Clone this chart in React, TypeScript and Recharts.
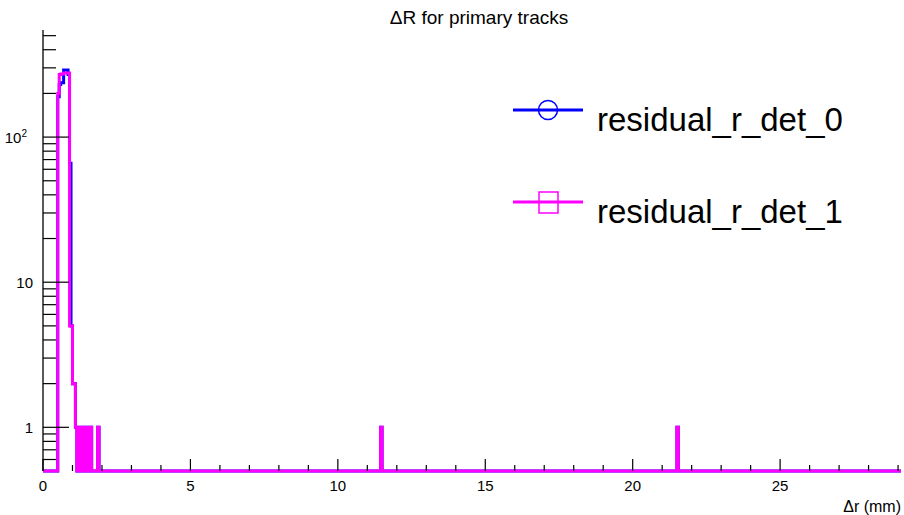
import { LineChart, Line, XAxis, YAxis, Legend } from 'recharts';

const FONT = '"Liberation Sans", Arial, Helvetica, sans-serif';

const X_MIN = 0;
const X_MAX = 29.1;
const Y_MIN = 0.5;
const Y_MAX = 547;

// lower bin edges (mm) where the contents change
const binEdges = [
  0, 0.5, 0.55, 0.6, 0.65, 0.7, 0.75, 0.8, 0.85, 0.9, 0.95, 1.0, 1.05, 1.1,
  1.15, 1.2, 1.25, 1.3, 1.35, 1.4, 1.45, 1.5, 1.55, 1.6, 1.65, 1.85, 1.9,
  11.45, 11.5, 21.5, 21.55, 29.1,
];
const det0Counts = [
  0, 190, 230, 237, 237, 290, 290, 290, 270, 66, 5, 2, 2, 1, 0, 1, 0, 1, 0, 1,
  0, 1, 0, 1, 0, 1, 0, 1, 0, 1, 0, 0,
];
const det1Counts = [
  0, 200, 270, 272, 272, 277, 277, 277, 277, 5, 5, 2, 2, 1, 0, 1, 0, 1, 0, 1,
  0, 1, 0, 1, 0, 1, 0, 1, 0, 1, 0, 0,
];

const xTicks = [
  0, 1, 2, 3, 4, 5, 6, 7, 8, 9, 10, 11, 12, 13, 14, 15, 16, 17, 18, 19, 20,
  21, 22, 23, 24, 25, 26, 27, 28, 29,
];
const xMajor = [0, 5, 10, 15, 20, 25];
const yTicks = [
  0.6, 0.7, 0.8, 0.9, 1, 2, 3, 4, 5, 6, 7, 8, 9, 10, 20, 30, 40, 50, 60, 70,
  80, 90, 100, 200, 300, 400, 500,
];
const yMajor = [1, 10, 100];

const seriesNames = ['residual_r_det_0', 'residual_r_det_1'];
const seriesColors = ['#0000ff', '#ff00ff'];

// empty bins sit on the bottom of the log axis, like ROOT draws them
const table = binEdges.map((x, i) => ({
  x,
  det0: Math.max(det0Counts[i], Y_MIN),
  det1: Math.max(det1Counts[i], Y_MIN),
}));

function XTick(props: any) {
  const { x, y, payload } = props;
  const v = payload.value;
  const major = xMajor.includes(v);
  return (
    <g>
      <line x1={x} x2={x} y1={y} y2={y - (major ? 12 : 6)} stroke="#000" strokeWidth={1.2} />
      {major && (
        <text x={x} y={y + 20} textAnchor="middle" fontSize={15} fontFamily={FONT} fill="#000">
          {v}
        </text>
      )}
    </g>
  );
}

function YTick(props: any) {
  const { x, y, payload } = props;
  const v = payload.value;
  const major = yMajor.includes(v);
  let label = null;
  if (v === 100) {
    label = (
      <text x={x - 16} y={y + 5.5} textAnchor="end" fontSize={15} fontFamily={FONT} fill="#000">
        10
        <tspan dy={-6} fontSize={10}>2</tspan>
      </text>
    );
  } else if (major) {
    label = (
      <text x={x - 10} y={y + 5.5} textAnchor="end" fontSize={15} fontFamily={FONT} fill="#000">
        {v}
      </text>
    );
  }
  return (
    <g>
      <line x1={x} x2={x + (major ? 26 : 13)} y1={y} y2={y} stroke="#000" strokeWidth={1.2} />
      {label}
    </g>
  );
}

function XLabel(props: any) {
  const { viewBox } = props;
  return (
    <text
      x={viewBox.x + viewBox.width}
      y={viewBox.y + 41}
      textAnchor="end"
      fontSize={16}
      fontFamily={FONT}
      fill="#000"
    >
      Δr (mm)
    </text>
  );
}

function LegendBox() {
  const rows = [20, 112];
  return (
    <svg width={360} height={150}>
      {seriesNames.map((name, i) => (
        <g key={name}>
          <line x1={13} x2={83} y1={rows[i]} y2={rows[i]} stroke={seriesColors[i]} strokeWidth={3} />
          {i === 0 ? (
            <circle cx={48} cy={rows[i]} r={9.5} fill="none" stroke={seriesColors[i]} strokeWidth={1.5} />
          ) : (
            <rect x={39} y={rows[i] - 10} width={19} height={21} fill="none" stroke={seriesColors[i]} strokeWidth={1.5} />
          )}
          <text x={97} y={rows[i] + 21} fontSize={33} fontFamily={FONT} fill="#000">
            {name}
          </text>
        </g>
      ))}
    </svg>
  );
}

export default function App() {
  return (
    <div style={{ position: 'absolute', left: 0, top: 0, width: 904, height: 515, background: '#fff' }}>
      <LineChart
        width={904}
        height={515}
        data={table}
        margin={{ top: 30, right: 3, bottom: 0, left: 0 }}
      >
        <XAxis
          dataKey="x"
          type="number"
          domain={[X_MIN, X_MAX]}
          ticks={xTicks}
          interval={0}
          tick={<XTick />}
          tickLine={false}
          tickSize={0}
          tickMargin={0}
          axisLine={false}
          height={44}
          label={<XLabel />}
        />
        <XAxis
          xAxisId="frameTop"
          orientation="top"
          dataKey="x"
          type="number"
          domain={[X_MIN, X_MAX]}
          tick={false}
          tickLine={false}
          axisLine={{ stroke: '#000' }}
          height={0}
        />
        <YAxis
          scale="log"
          domain={[Y_MIN, Y_MAX]}
          ticks={yTicks}
          interval={0}
          tick={<YTick />}
          tickLine={false}
          tickSize={0}
          tickMargin={0}
          axisLine={{ stroke: '#222', strokeWidth: 1.5 }}
          width={43}
        />
        <YAxis
          yAxisId="frameRight"
          orientation="right"
          scale="log"
          domain={[Y_MIN, Y_MAX]}
          tick={false}
          tickLine={false}
          axisLine={{ stroke: '#000' }}
          width={0}
        />
        <Line
          type="stepAfter"
          dataKey="det0"
          name={seriesNames[0]}
          stroke={seriesColors[0]}
          strokeWidth={3}
          dot={false}
          isAnimationActive={false}
        />
        <Line
          type="stepAfter"
          dataKey="det1"
          name={seriesNames[1]}
          stroke={seriesColors[1]}
          strokeWidth={3}
          dot={false}
          isAnimationActive={false}
        />
        <Legend
          layout="horizontal"
          verticalAlign="middle"
          align="center"
          content={() => <LegendBox />}
          wrapperStyle={{ left: 500, top: 90, width: 360, height: 150 }}
        />
      </LineChart>
      <svg
        width={904}
        height={30}
        style={{ position: 'absolute', left: 0, top: 0, pointerEvents: 'none' }}
      >
        <text x={479} y={24} textAnchor="middle" fontSize={19} fontFamily={FONT} fill="#000">
          ΔR for primary tracks
        </text>
      </svg>
    </div>
  );
}
